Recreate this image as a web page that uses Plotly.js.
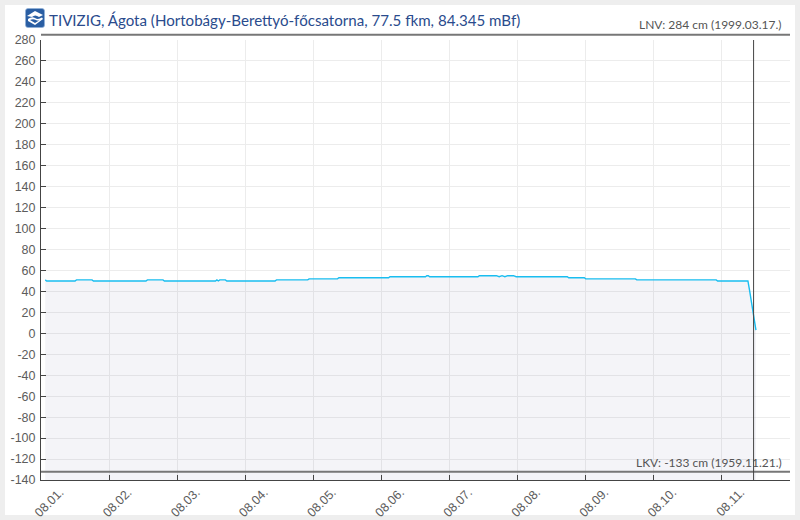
<!DOCTYPE html>
<html>
<head>
<meta charset="utf-8">
<script src="https://cdn.plot.ly/plotly-3.0.1.min.js"></script>
<style>
html,body{margin:0;padding:0;background:#eeeeee;width:800px;height:520px;overflow:hidden}
#panel{position:absolute;left:5px;top:5px;width:790px;height:510px;background:#ffffff}
#chart{position:absolute;left:0;top:0;width:800px;height:520px}
#logo{position:absolute;left:25px;top:8px;width:20px;height:20px}
</style>
</head>
<body>
<div id="panel"></div>
<div id="chart"></div>
<svg id="logo" viewBox="0 0 20 20">
<rect x="0.5" y="0.5" width="19" height="19" rx="2.5" fill="#2a5ea3" stroke="#8fb0d8" stroke-width="0.7"/>
<path d="M2 8 L10 3 L18 7 L14 9 Q10 6 7 9 Z" fill="#fff"/>
<path d="M3 11 Q7 8 10 10 Q13 12 17 9.5 L18 11 L10 17 L3 13 Z" fill="#fff"/>
<path d="M5 12 Q8 10.5 11 12 Q13 13 15 12 L10 15 Z" fill="#2a5ea3"/>
</svg>
<script>
const timeStamps = [
 "2024-08-01 01:30","2024-08-01 02:00","2024-08-01 12:00","2024-08-01 12:30","2024-08-01 18:00","2024-08-01 18:30",
 "2024-08-02 13:00","2024-08-02 13:30","2024-08-02 19:00","2024-08-02 19:30",
 "2024-08-03 13:30","2024-08-03 14:00","2024-08-03 14:30","2024-08-03 15:00","2024-08-03 17:00","2024-08-03 17:30",
 "2024-08-04 10:30","2024-08-04 11:00","2024-08-04 22:00","2024-08-04 22:30",
 "2024-08-05 08:30","2024-08-05 09:00","2024-08-06 02:30","2024-08-06 03:00",
 "2024-08-06 15:30","2024-08-06 16:00","2024-08-06 16:30","2024-08-06 17:00",
 "2024-08-07 10:00","2024-08-07 10:30","2024-08-07 16:30","2024-08-07 17:30","2024-08-07 18:30","2024-08-07 19:30","2024-08-07 20:30","2024-08-07 22:30","2024-08-07 23:30",
 "2024-08-08 17:30","2024-08-08 18:00","2024-08-08 23:30","2024-08-09 00:00",
 "2024-08-09 17:30","2024-08-09 18:00","2024-08-10 22:00","2024-08-10 22:30",
 "2024-08-11 09:10","2024-08-11 09:45","2024-08-11 11:10","2024-08-11 12:00"
];
const waterLevels = [
 51,50,50,51,51,50,
 50,51,51,50,
 50,51,50,51,51,50,
 50,51,51,52,
 52,53,53,54,
 54,55,55,54,
 54,55,55,54,55,54,55,55,54,
 54,53,53,52,
 52,51,51,50,
 50,41,17,3
];
const baseLevels = timeStamps.map(() => -140);
const yTicks = [280,260,240,220,200,180,160,140,120,100,80,60,40,20,0,-20,-40,-60,-80,-100,-120,-140];
const xTickVals = ["2024-08-01","2024-08-02","2024-08-03","2024-08-04","2024-08-05","2024-08-06","2024-08-07","2024-08-08","2024-08-09","2024-08-10","2024-08-11","2024-08-12"];
const xTickText = ["08.01.","08.02.","08.03.","08.04.","08.05.","08.06.","08.07.","08.08.","08.09.","08.10.","08.11.",""];
const titleText = "TIVIZIG, Ágota (Hortobágy-Berettyó-főcsatorna, 77.5 fkm, 84.345 mBf)";
const lnvValue = 284, lkvValue = -133;
const lnvText = "LNV: 284 cm (1999.03.17.)";
const lkvText = "LKV: -133 cm (1959.11.21.)";
const currentTime = "2024-08-11 11:10";
const yMin = -140, yMax = 280;
const paperY = v => (v - yMin) / (yMax - yMin);
const refLine = v => ({type:"line",xref:"paper",yref:"paper",ysizemode:"pixel",yanchor:paperY(v),x0:0,x1:1,y0:1,y1:1,line:{color:"#777777",width:2}});

const data = [
 {x:timeStamps,y:baseLevels,mode:"lines",line:{width:0},hoverinfo:"skip",showlegend:false},
 {x:timeStamps,y:waterLevels,mode:"lines",fill:"tonexty",fillcolor:"rgba(60,70,140,0.06)",line:{color:"#19bdf0",width:1.4},showlegend:false}
];
const tickFont = {family:"Liberation Sans, Arial, sans-serif",size:12.5,color:"#5c5c5c"};
const layout = {
 width:800,height:520,
 margin:{l:40.5,r:10,t:40,b:40,pad:0},
 paper_bgcolor:"rgba(0,0,0,0)",plot_bgcolor:"rgba(0,0,0,0)",
 showlegend:false,
 xaxis:{type:"date",range:["2024-08-01","2024-08-12"],tickmode:"array",tickvals:xTickVals,ticktext:xTickText,tickangle:-45,
  ticks:"inside",ticklen:5,tickcolor:"#444444",tickwidth:1,showline:true,linecolor:"#444444",linewidth:1,
  gridcolor:"#ececec",gridwidth:1,zeroline:false,tickfont:tickFont,ticklabelshift:19,ticklabelstandoff:-1},
 yaxis:{range:[yMin,yMax],tickmode:"array",tickvals:yTicks,ticktext:yTicks.map(String),
  ticks:"inside",ticklen:5,tickcolor:"#444444",tickwidth:1,showline:true,linecolor:"#444444",linewidth:1,
  gridcolor:"#ececec",gridwidth:1,zeroline:false,tickfont:tickFont,ticklabelstandoff:2},
 shapes:[
  refLine(lnvValue),refLine(lkvValue),
  {type:"line",xref:"x",yref:"paper",x0:currentTime,x1:currentTime,y0:0,y1:1,line:{color:"#444444",width:1}}
 ],
 annotations:[
  {xref:"paper",yref:"paper",x:0,y:paperY(lnvValue),yshift:5,xshift:6,xanchor:"left",yanchor:"bottom",showarrow:false,align:"left",text:titleText,font:{family:"Lato, sans-serif",size:15.1,color:"#2a4b8d"}},
  {xref:"paper",yref:"paper",x:1,y:paperY(lnvValue),yshift:2,xshift:-6,xanchor:"right",yanchor:"bottom",showarrow:false,text:lnvText,font:{family:"Lato, sans-serif",size:12,color:"#555555"}},
  {xref:"paper",yref:"paper",x:1,y:paperY(lkvValue),yshift:1,xshift:-6,xanchor:"right",yanchor:"bottom",showarrow:false,text:lkvText,font:{family:"Lato, sans-serif",size:12,color:"#555555"}}
 ]
};
Plotly.newPlot("chart",data,layout,{displayModeBar:false,staticPlot:true});
</script>
</body>
</html>
